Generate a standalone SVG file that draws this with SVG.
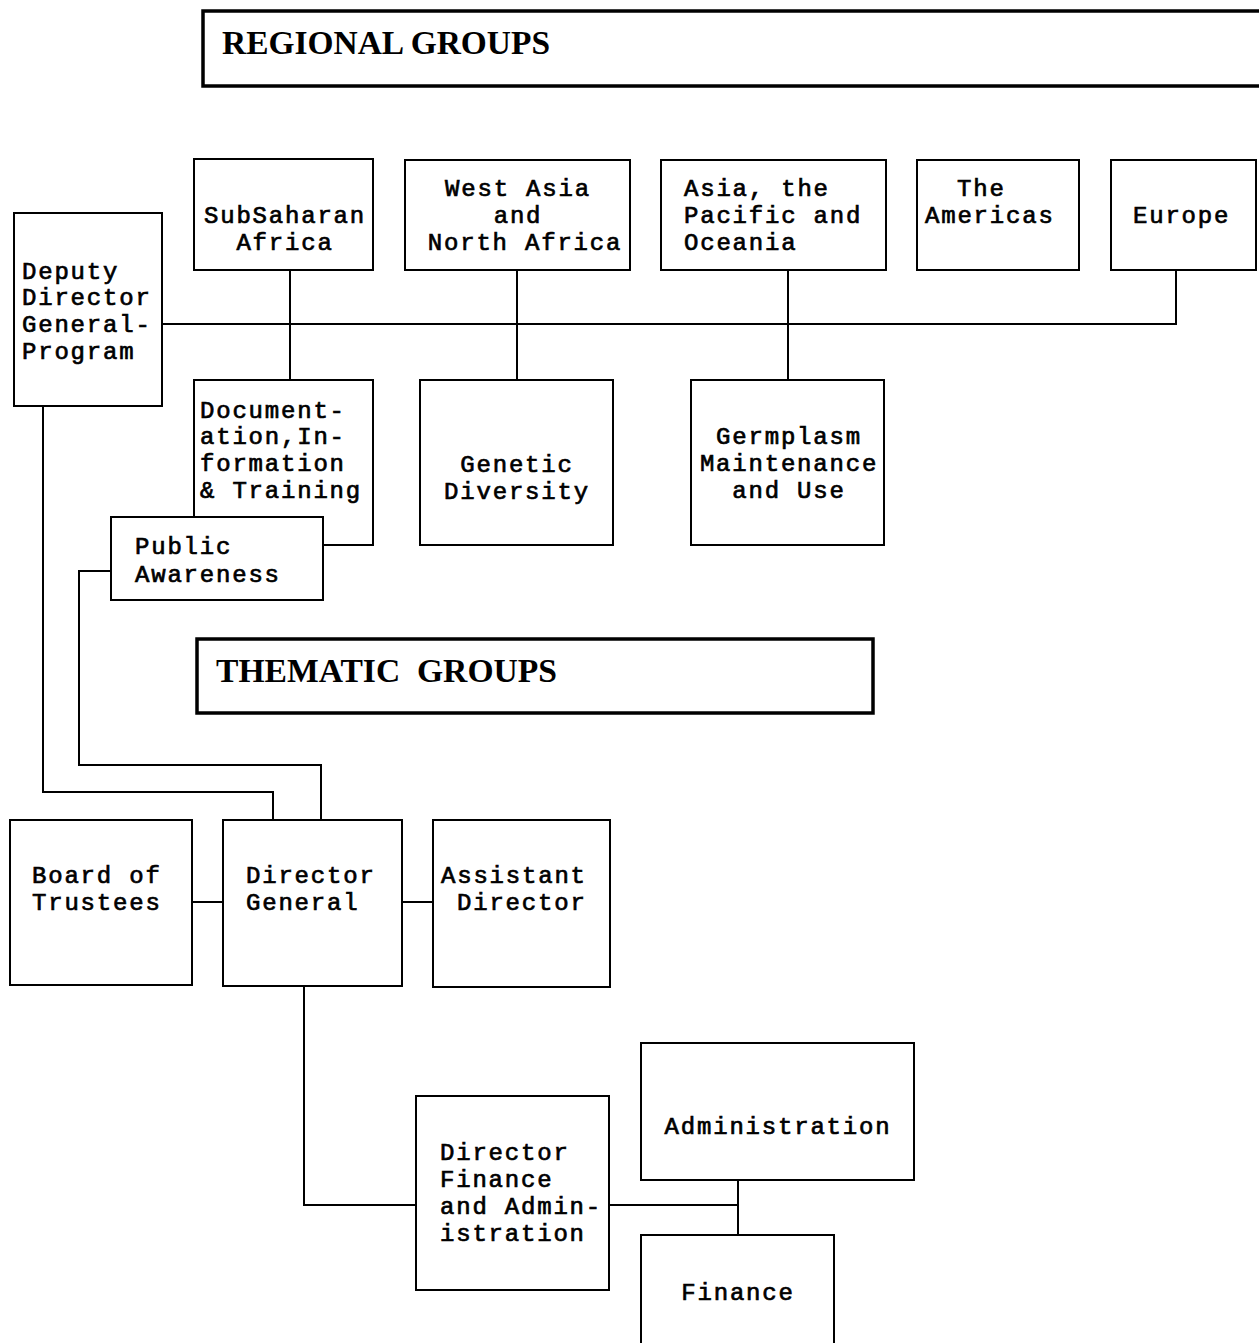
<svg xmlns="http://www.w3.org/2000/svg" width="1259" height="1343" viewBox="0 0 1259 1343">
<style>
.box{fill:#fff;stroke:#000;stroke-width:2}
.hdr{fill:#fff;stroke:#000;stroke-width:3.5}
.t{font-family:"Liberation Mono",monospace;font-size:24px;letter-spacing:1.8px;fill:#000;stroke:#000;stroke-width:0.7}
.c{text-anchor:middle}
.h{font-family:"Liberation Serif",serif;font-weight:bold;font-size:34px;fill:#000}
.conn{fill:none;stroke:#000;stroke-width:2}
</style>
<rect width="1259" height="1343" fill="#fff"/>
<g id="connectors">
<polyline class="conn" points="162,324 1176,324 1176,270"/>
<line class="conn" x1="290" y1="270" x2="290" y2="380"/>
<line class="conn" x1="517" y1="270" x2="517" y2="380"/>
<line class="conn" x1="788" y1="270" x2="788" y2="380"/>
<polyline class="conn" points="43,406 43,792 273,792 273,820"/>
<polyline class="conn" points="111,571 79,571 79,765 321,765 321,820"/>
<line class="conn" x1="192" y1="902" x2="223" y2="902"/>
<line class="conn" x1="402" y1="902" x2="433" y2="902"/>
<polyline class="conn" points="304,986 304,1205 416,1205"/>
<line class="conn" x1="609" y1="1205" x2="738" y2="1205"/>
<line class="conn" x1="738" y1="1180" x2="738" y2="1235"/>
</g>
<g id="regional-groups">
<rect class="hdr" x="203" y="11" width="1070" height="75"/>
<text class="h" x="222" y="54" textLength="328" lengthAdjust="spacingAndGlyphs">REGIONAL GROUPS</text>
</g>
<g id="thematic-groups">
<rect class="hdr" x="197" y="639" width="676" height="74"/>
<text class="h" x="216" y="682" textLength="341" lengthAdjust="spacingAndGlyphs" xml:space="preserve">THEMATIC  GROUPS</text>
</g>
<g id="ddg">
<rect class="box" x="14" y="213" width="148" height="193"/>
<text class="t" x="22" y="279">Deputy</text>
<text class="t" x="22" y="305">Director</text>
<text class="t" x="22" y="332">General-</text>
<text class="t" x="22" y="359">Program</text>
</g>
<g id="subsaharan">
<rect class="box" x="194" y="159" width="179" height="111"/>
<text class="t c" x="285" y="223">SubSaharan</text>
<text class="t c" x="285" y="250">Africa</text>
</g>
<g id="westasia">
<rect class="box" x="405" y="160" width="225" height="110"/>
<text class="t c" x="518" y="196">West Asia</text>
<text class="t c" x="518" y="223">and</text>
<text class="t c" x="525" y="250">North Africa</text>
</g>
<g id="asiapacific">
<rect class="box" x="661" y="160" width="225" height="110"/>
<text class="t" x="684" y="196">Asia, the</text>
<text class="t" x="684" y="223">Pacific and</text>
<text class="t" x="684" y="250">Oceania</text>
</g>
<g id="americas">
<rect class="box" x="917" y="160" width="162" height="110"/>
<text class="t" x="957" y="196">The</text>
<text class="t" x="925" y="223">Americas</text>
</g>
<g id="europe">
<rect class="box" x="1111" y="160" width="145" height="110"/>
<text class="t" x="1133" y="223">Europe</text>
</g>
<g id="documentation">
<rect class="box" x="194" y="380" width="179" height="165"/>
<text class="t" x="200" y="418">Document-</text>
<text class="t" x="200" y="444">ation,In-</text>
<text class="t" x="200" y="471">formation</text>
<text class="t" x="200" y="498">&amp; Training</text>
</g>
<g id="public-awareness">
<rect class="box" x="111" y="517" width="212" height="83"/>
<text class="t" x="135" y="554">Public</text>
<text class="t" x="135" y="582">Awareness</text>
</g>
<g id="genetic-diversity">
<rect class="box" x="420" y="380" width="193" height="165"/>
<text class="t c" x="517" y="472">Genetic</text>
<text class="t c" x="517" y="499">Diversity</text>
</g>
<g id="germplasm">
<rect class="box" x="691" y="380" width="193" height="165"/>
<text class="t c" x="789" y="444">Germplasm</text>
<text class="t c" x="789" y="471">Maintenance</text>
<text class="t c" x="789" y="498">and Use</text>
</g>
<g id="board">
<rect class="box" x="10" y="820" width="182" height="165"/>
<text class="t" x="32" y="883">Board of</text>
<text class="t" x="32" y="910">Trustees</text>
</g>
<g id="dg">
<rect class="box" x="223" y="820" width="179" height="166"/>
<text class="t" x="246" y="883">Director</text>
<text class="t" x="246" y="910">General</text>
</g>
<g id="assistant">
<rect class="box" x="433" y="820" width="177" height="167"/>
<text class="t" x="441" y="883">Assistant</text>
<text class="t" x="457" y="910">Director</text>
</g>
<g id="dfa">
<rect class="box" x="416" y="1096" width="193" height="194"/>
<text class="t" x="440" y="1160">Director</text>
<text class="t" x="440" y="1187">Finance</text>
<text class="t" x="440" y="1214">and Admin-</text>
<text class="t" x="440" y="1241">istration</text>
</g>
<g id="administration">
<rect class="box" x="641" y="1043" width="273" height="137"/>
<text class="t c" x="778" y="1134">Administration</text>
</g>
<g id="finance">
<rect class="box" x="641" y="1235" width="193" height="120"/>
<text class="t c" x="738" y="1300">Finance</text>
</g>
</svg>
